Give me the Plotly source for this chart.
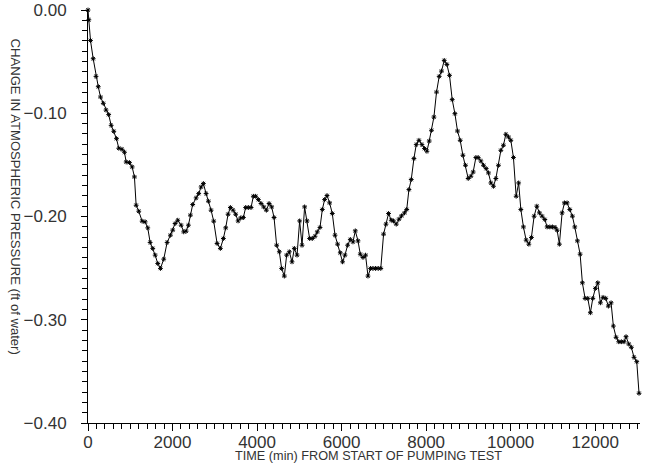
import plotly.graph_objects as go

# Time since start of pumping test (min)
time_min = [0, 20, 59, 123, 189, 243, 296, 362, 426, 489, 548, 610, 674, 728, 804, 863, 903, 981, 1045, 1099,
            1139, 1201, 1281, 1352, 1414, 1470, 1532, 1589, 1650, 1714, 1792, 1872, 1950, 2005, 2061, 2123, 2203,
            2265, 2321, 2376, 2423, 2477, 2558, 2619, 2676, 2730, 2794, 2849, 2912, 2974, 3054, 3132,
            3203, 3258, 3314, 3369, 3433, 3494, 3551, 3612, 3676, 3730, 3794, 3858, 3912, 3967, 4031, 4094,
            4156, 4220, 4284, 4345, 4402, 4463, 4527, 4581, 4645, 4700, 4763, 4827, 4882, 4946, 5007, 5064,
            5125, 5182, 5243, 5307, 5371, 5425, 5489, 5544, 5598, 5655, 5716, 5780, 5844, 5905, 5969, 6023,
            6080, 6142, 6206, 6269, 6324, 6388, 6442, 6506, 6567, 6624, 6685, 6742, 6804, 6867, 6927,
            6993, 7050, 7111, 7175, 7229, 7293, 7357, 7418, 7489, 7541, 7593, 7648, 7711, 7766, 7830, 7900,
            7962, 8019, 8073, 8127, 8184, 8246, 8309, 8364, 8428, 8491, 8553, 8617, 8681, 8742, 8806, 8870,
            8931, 8995, 9059, 9113, 9177, 9231, 9295, 9357, 9421, 9475, 9532, 9593, 9650, 9711, 9768, 9829,
            9886, 9948, 10004, 10066, 10130, 10189,
            10241, 10302, 10366, 10430, 10491, 10555, 10619, 10681, 10744, 10808, 10863, 10926, 10988, 11052,
            11099, 11153, 11217, 11272, 11335, 11399, 11461, 11517, 11579, 11643, 11697, 11761, 11825, 11886,
            11943, 12004, 12061, 12123, 12186, 12250, 12312, 12376, 12430, 12494, 12557, 12619, 12683, 12730,
            12794, 12855, 12919, 12983, 13037]

# Change in atmospheric pressure (ft of water)
pressure_change = [0.000, -0.0095, -0.0295, -0.0472, -0.0643, -0.0743, -0.0843, -0.0904, -0.0969, -0.1013,
                   -0.1117, -0.1175, -0.1246, -0.1339, -0.1349, -0.1378, -0.1472, -0.1478, -0.1520, -0.1617,
                   -0.1891, -0.1949, -0.2045, -0.2052, -0.2110, -0.2251, -0.2309, -0.2374, -0.2455, -0.2503,
                   -0.2413, -0.2251, -0.2181, -0.2132, -0.2068, -0.2036, -0.2084, -0.2149, -0.2142, -0.2084,
                   -0.1987, -0.1884, -0.1820, -0.1778, -0.1714, -0.1681, -0.1778, -0.1852, -0.1939, -0.2045,
                   -0.2261, -0.2309,
                   -0.2213, -0.2110, -0.1978, -0.1913, -0.1939, -0.1978, -0.2043, -0.2014, -0.2010, -0.1913,
                   -0.1913, -0.1913, -0.1804, -0.1804, -0.1836, -0.1874, -0.1907, -0.1939, -0.1874, -0.1907,
                   -0.2010, -0.2278, -0.2342, -0.2503, -0.2577, -0.2374, -0.2342, -0.2439, -0.2309, -0.2374,
                   -0.2043, -0.2278, -0.1907, -0.2043, -0.2213, -0.2213, -0.2191, -0.2149, -0.2106, -0.1932,
                   -0.1836, -0.1797, -0.1868, -0.1971, -0.2181, -0.2268, -0.2352, -0.2439, -0.2374, -0.2278,
                   -0.2222, -0.2246, -0.2139, -0.2236, -0.2365, -0.2397, -0.2374, -0.2577, -0.2503, -0.2503,
                   -0.2503, -0.2503, -0.2503,
                   -0.2171, -0.2074, -0.1971, -0.2036, -0.2043, -0.2074, -0.2026, -0.1994, -0.1965, -0.1932,
                   -0.1739, -0.1642, -0.1439, -0.1304, -0.1262, -0.1304, -0.1342, -0.1368, -0.1269, -0.1165,
                   -0.1037, -0.0795, -0.0643, -0.0592, -0.0488, -0.0527, -0.0633, -0.0868, -0.1004, -0.1172,
                   -0.1262, -0.1407, -0.1504, -0.1632, -0.1610, -0.1569, -0.1429, -0.1429, -0.1462, -0.1504,
                   -0.1536, -0.1578, -0.1675, -0.1707, -0.1632, -0.1504, -0.1359, -0.1310, -0.1204, -0.1230,
                   -0.1262, -0.1429, -0.1804, -0.1675,
                   -0.1932, -0.2101, -0.2229, -0.2268, -0.2203, -0.1997, -0.1900, -0.1965, -0.1997, -0.2029,
                   -0.2101, -0.2101, -0.2101, -0.2106, -0.2133, -0.2268, -0.1965, -0.1868, -0.1868, -0.1932,
                   -0.1997, -0.2101, -0.2236, -0.2365, -0.2642, -0.2793, -0.2793, -0.2932, -0.2793, -0.2696,
                   -0.2642, -0.2836, -0.2783, -0.2793, -0.2868, -0.2836, -0.3061, -0.3170, -0.3213, -0.3213,
                   -0.3213, -0.3164, -0.3235, -0.3267, -0.3364, -0.3406, -0.3712]

y_tick_values = [0.0, -0.1, -0.2, -0.3, -0.4]
y_tick_labels = ["0.00", "\u22120.10", "\u22120.20", "\u22120.30", "\u22120.40"]
x_tick_values = [0, 2000, 4000, 6000, 8000, 10000, 12000]
x_tick_labels = ["0", "2000", "4000", "6000", "8000", "10000", "12000"]

x_title = "TIME (min) FROM START OF PUMPING TEST"
y_title = "CHANGE IN ATMOSPHERIC PRESSURE (ft of water)"

FONT = "Liberation Sans"
INK = "#333"

fig = go.Figure()
fig.add_trace(go.Scatter(
    x=time_min, y=pressure_change, mode="lines+markers",
    line=dict(color="black", width=1),
    marker=dict(symbol="asterisk-open", size=4, color="black", line=dict(color="black", width=1)),
    cliponaxis=False, showlegend=False,
))

fig.update_layout(
    width=650, height=467,
    margin=dict(l=88, r=10, t=10, b=44, autoexpand=False),
    paper_bgcolor="white", plot_bgcolor="white",
    font=dict(family=FONT, color=INK),
    xaxis=dict(
        range=[0, 13060], tickvals=x_tick_values, ticktext=x_tick_labels, ticks="outside", ticklen=7,
        tickwidth=1, tickcolor="black", showline=True, linecolor="black", linewidth=1, showgrid=False,
        zeroline=False, automargin=False, tickfont=dict(size=17, family=FONT, color=INK),
        ticklabelstandoff=-3,
        minor=dict(dtick=200, tick0=0, ticks="outside", ticklen=5, tickcolor="black", showgrid=False),
    ),
    yaxis=dict(
        range=[-0.40, 0.0], tickvals=y_tick_values, ticktext=y_tick_labels, ticks="outside", ticklen=6,
        tickwidth=1, tickcolor="black", showline=True, linecolor="black", linewidth=1, showgrid=False,
        zeroline=False, automargin=False, tickfont=dict(size=17, family=FONT, color=INK),
        ticklabelstandoff=11,
        minor=dict(dtick=0.01, tick0=0, ticks="outside", ticklen=5, tickcolor="black", showgrid=False),
    ),
    annotations=[
        dict(text=x_title, xref="paper", yref="paper", x=0.508, y=-0.08, xanchor="center",
             yanchor="middle", showarrow=False, font=dict(size=12.7, family=FONT, color=INK)),
        dict(text=y_title, xref="paper", yref="paper", x=-0.131, y=0.549, xanchor="center",
             yanchor="middle", textangle=90, showarrow=False, font=dict(size=13.1, family=FONT, color=INK)),
    ],
)

fig.write_html("out.html", config={"displayModeBar": False},
               post_script="document.body.style.margin='0';document.body.style.padding='0';")
